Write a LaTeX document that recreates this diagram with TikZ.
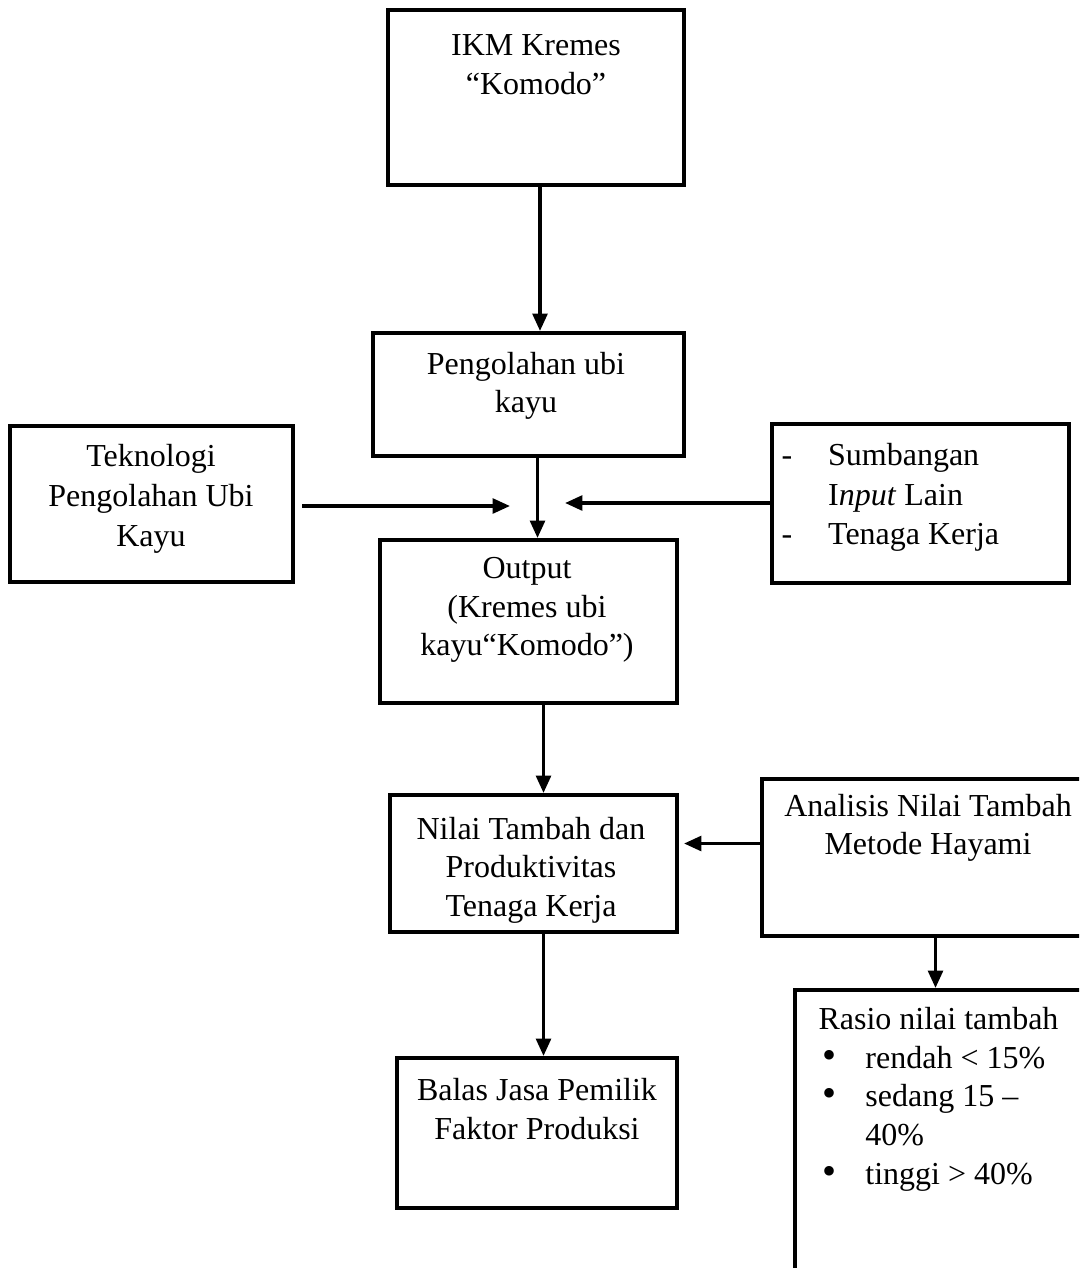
\documentclass[tikz,border=0pt]{standalone}
\usepackage{fontspec}
\setmainfont{Liberation Serif}
\usepackage{tikz}
\usetikzlibrary{positioning,fit,calc,arrows.meta}
\tikzstyle{box} = [draw,line width=1.5pt,inner sep=0pt]
\tikzstyle{txt} = [align=center,inner sep=0pt,font=\fontsize{12}{14.5}\selectfont]
\tikzstyle{arrow} = [line width=1.3pt,-{Triangle[length=6.5pt,width=5.5pt]}]
\newcommand{\bigdot}{\hspace*{1.5pt}\smash{\fontsize{15}{14.5}\selectfont•}}

\begin{document}
\begin{tikzpicture}[x=0.01318cm,y=-0.01318cm]
\useasboundingbox (0,0) rectangle (1079,1268);
\clip (0,0) rectangle (1079,1268);
% boxes
\node[box,fit={(388,10) (684,185)}] (ikm) {};
\node[box,fit={(373,333) (684,456)}] (peng) {};
\node[box,fit={(10,426) (293,582)}] (tek) {};
\node[box,fit={(772,424) (1069,583)}] (sum) {};
\node[box,fit={(380,540) (677,703)}] (out) {};
\node[box,fit={(390,795) (677,932)}] (nilai) {};
\node[box,fit={(762,779) (1095,936)}] (ana) {};
\node[box,fit={(795,990) (1095,1290)}] (rasio) {};
\node[box,fit={(397,1058) (677,1208)}] (balas) {};
% texts
\node[txt] (ikm-t) at (536,65) {IKM Kremes\\“Komodo”};
\node[txt] (peng-t) at (526,386) {Pengolahan ubi\\kayu};
\node[txt,font=\fontsize{12}{15}\selectfont] (tek-t) at (151,499) {Teknologi\\Pengolahan Ubi\\Kayu};
\node[txt,anchor=west,font=\fontsize{12}{15}\selectfont] (sum-t) at (781,497) {\begin{tabular}{@{}p{17.5pt}@{}l@{}}
-&Sumbangan\\
&I\textit{nput} Lain\\
-&Tenaga Kerja
\end{tabular}};
\node[txt] (out-t) at (527,610) {Output\\(Kremes ubi\\kayu“Komodo”)};
\node[txt] (nilai-t) at (531,870) {Nilai Tambah dan\\Produktivitas\\Tenaga Kerja};
\node[txt] (ana-t) at (928,828) {Analisis Nilai Tambah\\Metode Hayami};
\node[txt,anchor=west] (rasio-t) at (818,1099) {\begin{tabular}{@{}p{17.6pt}@{}l@{}}
\multicolumn{2}{@{}l@{}}{Rasio nilai tambah}\\
\bigdot&rendah < 15\%\\
\bigdot&sedang 15 --\\
&40\%\\
\bigdot&tinggi > 40\%
\end{tabular}};
\node[txt] (balas-t) at (537,1109) {Balas Jasa Pemilik\\Faktor Produksi};
% arrows
\coordinate (tekin) at (510,506);
\coordinate (sumin) at (565,503);
\draw[arrow] ($(ikm.south)+(4,0)$) coordinate (i1) -- (i1 |- peng.north);
\draw[arrow] ($(peng.south)+(9,0)$) coordinate (p1) -- (p1 |- out.north);
\draw[arrow] ($(tek.east |- tekin)+(7,0)$) -- (tekin);
\draw[arrow] (sum.west |- sumin) -- (sumin);
\draw[arrow] ($(out.south)+(15,0)$) coordinate (o1) -- (o1 |- nilai.north);
\draw[arrow] ($(ana.west)+(0,-14)$) coordinate (a1) -- ($(a1 -| nilai.east)+(5,0)$);
\draw[arrow] ($(ana.south)+(7,0)$) coordinate (a2) -- (a2 |- rasio.north);
\draw[arrow] ($(nilai.south)+(10,0)$) coordinate (n1) -- (n1 |- balas.north);
\end{tikzpicture}
\end{document}
